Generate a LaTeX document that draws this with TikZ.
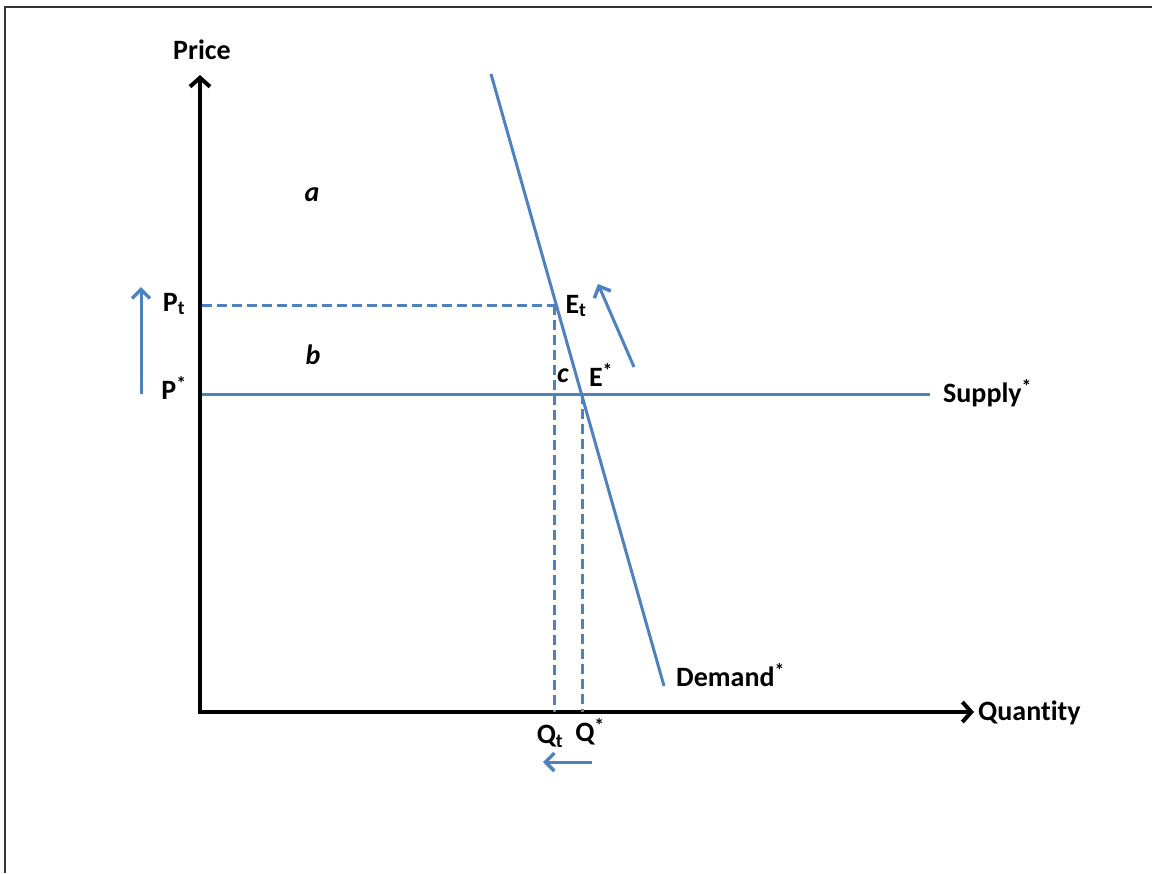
\documentclass[tikz,border=0pt]{standalone}
\usepackage{fontspec}
\setmainfont{Carlito}[Ligatures={NoCommon}]
\usetikzlibrary{arrows.meta}
\definecolor{lineblue}{RGB}{79,129,189}
\tikzset{
  axis/.style={line width=4pt, black, -{Straight Barb[length=9pt,width=20pt,line width=4pt]}},
  curve/.style={line width=3pt, lineblue},
  guide/.style={line width=3pt, lineblue, dash pattern=on 10pt off 5pt},
  move/.style={line width=3pt, lineblue, -{Straight Barb[length=9pt,width=18pt,line width=3.5pt]}},
  lbl/.style={font=\fontsize{28}{32}\selectfont\bfseries, inner sep=0pt},
  area/.style={font=\fontsize{28}{32}\selectfont\bfseries\itshape, inner sep=0pt},
}
\begin{document}
\begin{tikzpicture}[x=1pt,y=-1pt]
\useasboundingbox (0,0) rectangle (1153,873);
% frame
\coordinate (f1) at (5,873);
\coordinate (f2) at (5,7);
\coordinate (f3) at (1152,7);
\draw[line width=2pt, black!80] (f1) -- (f2) -- (f3);
% axes
\coordinate (O) at (200,712);
\coordinate (ytop) at (200,75);
\coordinate (xend) at (974,712);
\draw[axis] (200,714) -- (ytop);
\draw[axis] (198,712) -- (xend);
\node[lbl] (price) at (202,50) {Price};
\node[lbl, anchor=west] (qty) at (978,713) {Quantity};
% supply
\coordinate (s0) at (202,394);
\coordinate (s1) at (930,394);
\draw[curve] (s0) -- (s1);
\node[lbl, anchor=west] (supply) at (943,393) {Supply\textsuperscript{*}};
% demand
\coordinate (d0) at (491,74);
\coordinate (d1) at (664,686);
\draw[curve] (d0) -- (d1);
\node[lbl, anchor=west] (demand) at (676,675) {Demand\textsuperscript{*}};
% equilibria
\coordinate (Et) at (555,305);
\coordinate (Es) at (582,394);
\coordinate (Pt) at (202,305);
\coordinate (Qt) at (554,712);
\coordinate (Qs) at (582,712);
\draw[guide] (Pt) -- (Et);
\draw[guide] (554,305) -- (Qt);
\draw[guide] (Es) -- (Qs);
% labels
\node[lbl] (ptl) at (174,304) {P\textsubscript{t}};
\node[lbl] (psl) at (174,388) {P\textsuperscript{*}};
\node[lbl] (etl) at (576,306) {E\textsubscript{t}};
\node[lbl] (esl) at (601,375) {E\textsuperscript{*}};
\node[area] (cl) at (563,376) {c};
\node[area] (al) at (312,195) {a};
\node[area] (bl) at (313,355) {b};
\node[lbl] (qtl) at (550,736) {Q\textsubscript{t}};
\node[lbl] (qsl) at (590,732) {Q\textsuperscript{*}};
% movement arrows
\coordinate (u0) at (141,394);
\coordinate (u1) at (141,287);
\draw[move] (u0) -- (u1);
\coordinate (m0) at (634,367);
\coordinate (m1) at (598,284);
\draw[move] (m0) -- (m1);
\coordinate (l0) at (592,762);
\coordinate (l1) at (543,762);
\draw[move] (l0) -- (l1);
\end{tikzpicture}
\end{document}
